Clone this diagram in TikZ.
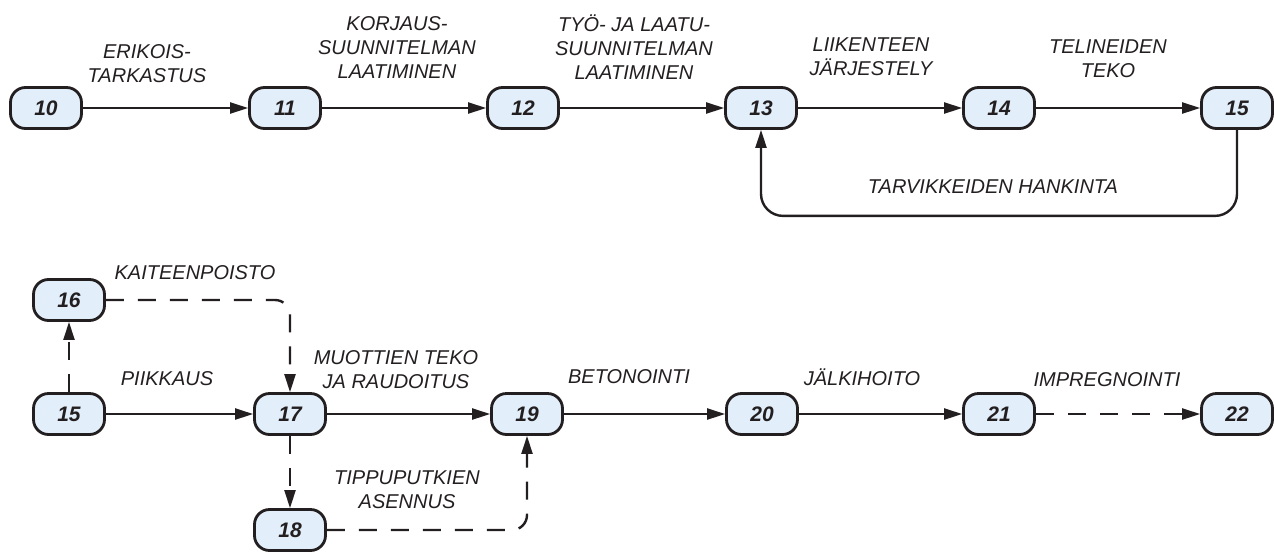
\documentclass[tikz,border=0pt]{standalone}
\usepackage{fontspec}
\setmainfont{Liberation Sans}
\usetikzlibrary{arrows.meta}
\definecolor{ink}{HTML}{231F20}
\definecolor{nodefill}{HTML}{E2EFFA}

\begin{document}
\begin{tikzpicture}[x=1pt,y=-1pt,
  stage/.style={draw=ink, line width=2.8pt, fill=nodefill, rounded corners=15pt,
    minimum width=71pt, minimum height=41pt, inner sep=0pt,
    font=\fontsize{21}{24}\selectfont\bfseries\itshape, text=ink},
  act/.style={line width=2.4pt, draw=ink, -{Triangle[length=18pt,width=11pt]}},
  opt/.style={act, dash pattern=on 18pt off 14pt},
  lbl/.style={font=\fontsize{20}{24}\selectfont\itshape, text=ink, align=center, inner sep=0pt}
]
\useasboundingbox (0,0) rectangle (1274,552);

% planning chain
\node[stage] (n10) at (46,108) {10};
\node[stage] (n11) at (285,108) {11};
\node[stage] (n12) at (523,108) {12};
\node[stage] (n13) at (761,108) {13};
\node[stage] (n14) at (999,108) {14};
\node[stage] (n15) at (1237,108) {15};

\draw[act] (n10) -- (n11);
\draw[act] (n11) -- (n12);
\draw[act] (n12) -- (n13);
\draw[act] (n13) -- (n14);
\draw[act] (n14) -- (n15);
\draw[act, rounded corners=22pt] (n15.south) -- ++(0,86) -| (n13.south);

\node[lbl] (t1) at (147,64) {ERIKOIS-\\TARKASTUS};
\node[lbl] (t2) at (397,48) {KORJAUS-\\SUUNNITELMAN\\LAATIMINEN};
\node[lbl] (t3) at (634,47) {TYÖ- JA LAATU-\\SUUNNITELMAN\\LAATIMINEN};
\node[lbl] (t4) at (871,57) {LIIKENTEEN\\JÄRJESTELY};
\node[lbl] (t5) at (1108,59) {TELINEIDEN\\TEKO};
\node[lbl] (t6) at (993,187) {TARVIKKEIDEN HANKINTA};

% repair work chain
\node[stage] (m15) at (69,414) {15};
\node[stage] (m16) at (69,300) {16};
\node[stage] (m17) at (290,414) {17};
\node[stage] (m18) at (290,530) {18};
\node[stage] (m19) at (527,414) {19};
\node[stage] (m20) at (762,414) {20};
\node[stage] (m21) at (999,414) {21};
\node[stage] (m22) at (1237,414) {22};

\draw[opt] (m15) -- (m16);
\draw[opt, rounded corners=15pt] (m16.east) -| (m17.north);
\draw[act] (m15) -- (m17);
\draw[opt] (m17) -- (m18);
\draw[opt, rounded corners=15pt] (m18.east) -| (m19.south);
\draw[act] (m17) -- (m19);
\draw[act] (m19) -- (m20);
\draw[act] (m20) -- (m21);
\draw[opt] (m21) -- (m22);

\node[lbl] (u1) at (195,273) {KAITEENPOISTO};
\node[lbl] (u2) at (167,379) {PIIKKAUS};
\node[lbl] (u3) at (396,370) {MUOTTIEN TEKO\\JA RAUDOITUS};
\node[lbl] (u4) at (407,490) {TIPPUPUTKIEN\\ASENNUS};
\node[lbl] (u5) at (629,377) {BETONOINTI};
\node[lbl] (u6) at (862,377) {JÄLKIHOITO};
\node[lbl] (u7) at (1107,380) {IMPREGNOINTI};
\end{tikzpicture}
\end{document}
